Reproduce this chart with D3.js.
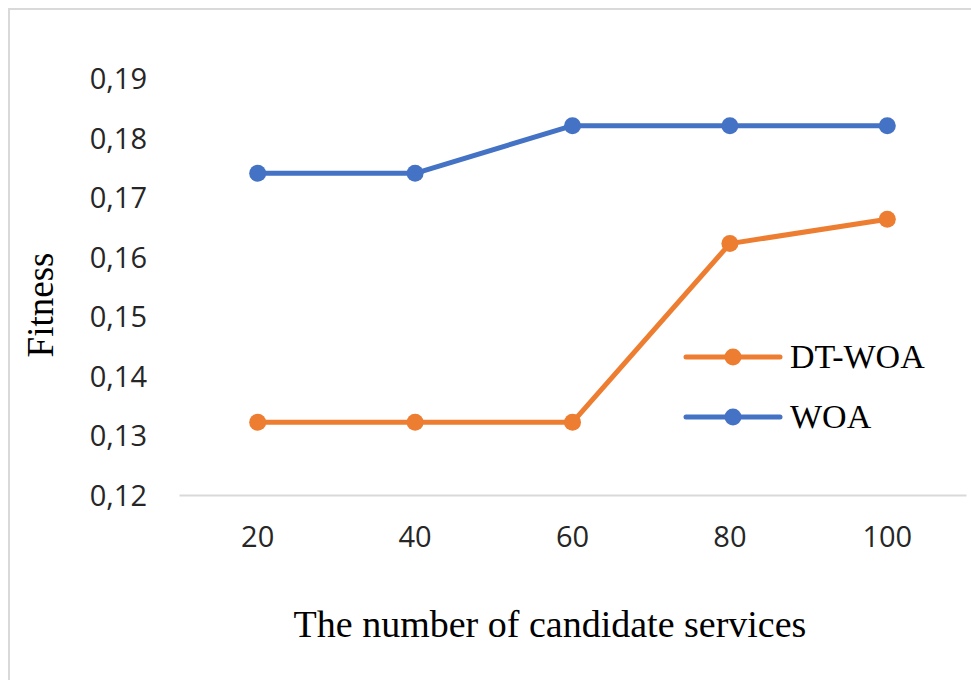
<!DOCTYPE html>
<html lang="en">
<head>
<meta charset="utf-8">
<title>Fitness vs candidate services</title>
<style>
body { margin: 0; background: #fff; }
.tick text { font-family: "Open Sans", sans-serif; font-size: 29px; fill: #262626; }
.title { font-family: "Liberation Serif", "Times New Roman", serif; fill: #000; }
</style>
</head>
<body>
<div id="chart"></div>
<script src="https://d3js.org/d3.v7.min.js"></script>
<script>

const categories = ["20", "40", "60", "80", "100"];
const dtWoa = [0.1322, 0.1322, 0.1322, 0.1622, 0.1663];
const woa = [0.174, 0.174, 0.182, 0.182, 0.182];
const yTicks = [0.12, 0.13, 0.14, 0.15, 0.16, 0.17, 0.18, 0.19];

const series = [
  { name: "DT-WOA", values: dtWoa, color: "#ED7D31" },
  { name: "WOA", values: woa, color: "#4472C4" }
];

const width = 971, height = 680;

const svg = d3.select("#chart").append("svg")
    .attr("width", width)
    .attr("height", height);

// outer frame (right / bottom edges fall outside the picture)
svg.append("rect")
    .attr("x", 9).attr("y", 9)
    .attr("width", 1000).attr("height", 700)
    .attr("fill", "none")
    .attr("stroke", "#d9d9d9")
    .attr("stroke-width", 2);

const x = d3.scaleBand().domain(categories).range([179, 966]);
const y = d3.scaleLinear().domain([0.12, 0.19]).range([495, 78]);

const comma = d3.formatLocale({ decimal: ",", thousands: ".", grouping: [3], currency: ["", ""] });
const fmt = comma.format(".2f");

// y axis labels only
const yAxis = svg.append("g")
    .attr("transform", "translate(147,0)")
    .call(d3.axisLeft(y).tickValues(yTicks).tickFormat(fmt).tickSize(0).tickPadding(0));
yAxis.select(".domain").remove();
yAxis.selectAll("text").attr("dy", "0.36em");

// x axis
const xAxis = svg.append("g")
    .attr("transform", "translate(0,495)")
    .call(d3.axisBottom(x).tickSize(0).tickPadding(30));
xAxis.select(".domain").attr("stroke", "#d9d9d9").attr("stroke-width", 2);
xAxis.selectAll("text").attr("dy", "0.36em").attr("y", 42);

const cx = d => x(d) + x.bandwidth() / 2;

const line = d3.line()
    .x((v, i) => cx(categories[i]))
    .y(v => y(v));

series.forEach(s => {
  svg.append("path")
      .datum(s.values)
      .attr("fill", "none")
      .attr("stroke", s.color)
      .attr("stroke-width", 5)
      .attr("stroke-linejoin", "round")
      .attr("d", line);

  svg.append("g").selectAll("circle")
    .data(s.values)
    .enter().append("circle")
      .attr("cx", (v, i) => cx(categories[i]))
      .attr("cy", v => y(v))
      .attr("r", 8.5)
      .attr("fill", s.color);
});

// legend
const legend = svg.append("g")
    .selectAll("g")
    .data(series)
    .enter().append("g")
      .attr("transform", (d, i) => "translate(686," + (357 + i * 60) + ")");

legend.append("line")
    .attr("x1", 0).attr("x2", 94)
    .attr("stroke", d => d.color)
    .attr("stroke-width", 5)
    .attr("stroke-linecap", "round");
legend.append("circle")
    .attr("cx", 47).attr("r", 8.5)
    .attr("fill", d => d.color);
legend.append("text")
    .attr("class", "title")
    .attr("x", 104)
    .attr("y", 11)
    .attr("font-size", 34)
    .text(d => d.name);

// axis titles
svg.append("text")
    .attr("class", "title")
    .attr("x", 550).attr("y", 637)
    .attr("text-anchor", "middle")
    .attr("font-size", 38)
    .text("The number of candidate services");

svg.append("text")
    .attr("class", "title")
    .attr("transform", "translate(53,305) rotate(-90)")
    .attr("text-anchor", "middle")
    .attr("font-size", 37)
    .text("Fitness");

</script>
</body>
</html>
